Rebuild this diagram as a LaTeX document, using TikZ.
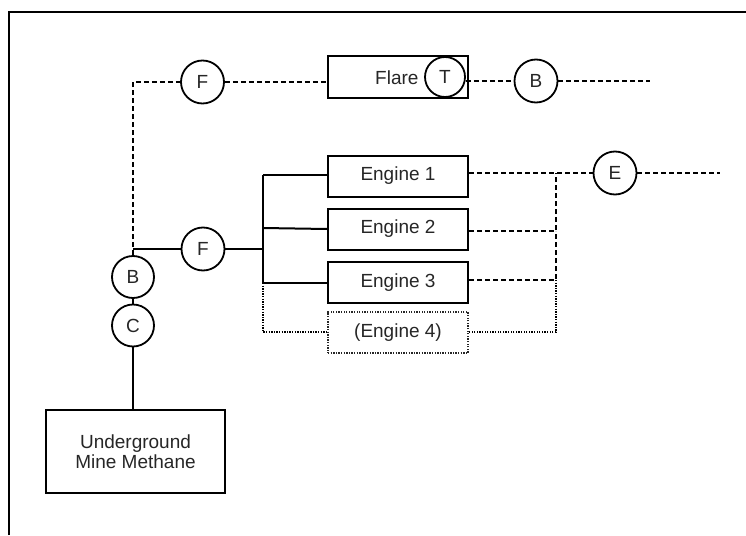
\documentclass[tikz,border=0pt]{standalone}
\usepackage{fontspec}
\setmainfont{Liberation Sans}
\begin{document}
\begin{tikzpicture}[x=1pt,y=-1pt,
  lbl/.style={font=\fontsize{19}{22}\selectfont, text=black!85},
  boxnode/.style={draw, line width=2pt, rectangle, minimum width=140pt, minimum height=41pt, inner sep=0pt, lbl},
  ring/.style={draw, line width=1.8pt, circle, minimum size=43pt, inner sep=0pt, fill=white, lbl},
  solidln/.style={line width=2pt},
  dashln/.style={line width=2pt, dash pattern=on 5pt off 3pt},
  dotln/.style={line width=1.8pt, dash pattern=on 1.3pt off 1.3pt}]
\useasboundingbox (0,0) rectangle (746,535);
% frame
\draw[line width=2pt] (9,535) -- (9,12) -- (746,12);

% flare branch
\node[boxnode] (flare) at (398,77) {};
\node[lbl, anchor=east] (flaretxt) at (422,78) {Flare};
\node[ring, minimum size=40pt] (T) at (445,77) {T};
\node[ring] (F1) at (202.5,82) {F};
\node[ring] (B2) at (536,81) {B};
\coordinate (flareend) at (650,81);

% source
\node[ring, minimum size=42pt] (B1) at (133,277) {B};
\node[ring, minimum size=42pt] (C) at (133,325.5) {C};
\node[draw, line width=2pt, minimum width=179pt, minimum height=83pt, inner sep=0pt, lbl, align=center] (mine) at (135.5,451.5) {Underground\\[-2pt]Mine Methane};

% engine branch
\node[ring] (F2) at (203,249) {F};
\node[boxnode] (e1) at (398,176) {Engine 1};
\node[boxnode] (e2) at (398,229) {Engine 2};
\node[boxnode] (e3) at (398,282.5) {Engine 3};
\node[boxnode, dotln, draw=black!85] (e4) at (398,332.5) {(Engine 4)};
\node[ring] (E) at (615,173) {E};
\coordinate (exhend) at (720,173);

\coordinate (corner) at (133,82);
\coordinate (junc) at (133,249);
\coordinate (busT) at (263,175);
\coordinate (busM) at (263,249);
\coordinate (busB) at (263,283);
\coordinate (busD) at (263,332);
\coordinate (colT) at (556,173);
\coordinate (colM) at (556,231);
\coordinate (colB) at (556,280);
\coordinate (colD) at (556,332);

% flare line
\draw[dashln] (B1.north) -- (corner) -- (F1.west);
\draw[dashln] (F1.east) -- (flare.west |- F1);
\draw[dashln] (T.east |- B2) -- (B2.west);
\draw[dashln] (B2.east) -- (flareend);

% source connections
\draw[solidln] (B1.south) -- (C.north);
\draw[solidln] (C.south) -- (mine.north -| C);
\draw[solidln] (junc) -- (F2.west);
\draw[solidln] (F2.east) -- (busM);
\draw[solidln] (busT) -- (busB);
\draw[solidln] (busT) -- (e1.west |- busT);
\draw[solidln] (busM) ++(0,-21) coordinate (bus2) -- (e2.west);
\draw[solidln] (busB) -- (e3.west |- busB);
\draw[dotln] (busB) -- (busD) -- (e4.west |- busD);

% exhaust
\draw[dashln] (e1.east |- colT) -- (E.west);
\draw[dashln] (E.east) -- (exhend);
\draw[dashln] (e2.east |- colM) -- (colM) -- (colT);
\draw[dashln] (e3.east |- colB) -- (colB) -- (colM);
\draw[dotln] (colB) -- (colD) -- (e4.east |- colD);
\end{tikzpicture}
\end{document}
